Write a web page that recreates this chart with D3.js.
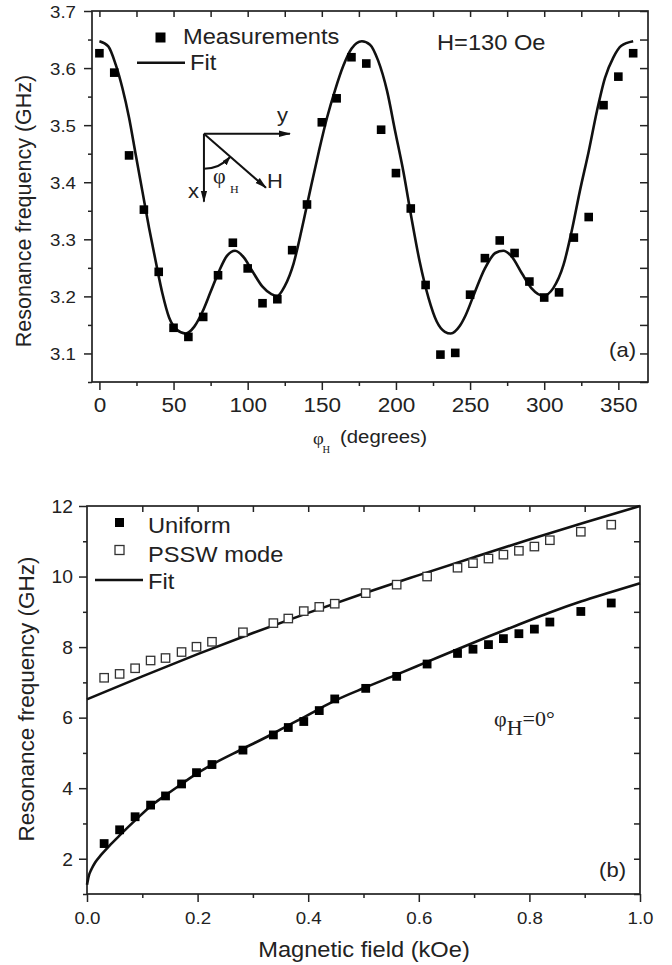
<!DOCTYPE html>
<html lang="en">
<head>
<meta charset="UTF-8">
<title>Resonance frequency vs angle and field</title>
<script src="https://d3js.org/d3.v7.min.js"></script>
<style>
  body { margin: 0; background: #fff; }
  svg text { fill: #222; font-family: "Liberation Sans", Arial, sans-serif; }
  svg text.serif { font-family: "Liberation Serif", "Times New Roman", serif; }
  .tick line { stroke: #222; stroke-width: 1.5; }
  .frame { fill: none; stroke: #222; stroke-width: 1.7; }
  .fit { fill: none; stroke: #111; stroke-width: 2.6; }
  .inset { fill: none; stroke: #111; stroke-width: 2; }
</style>
</head>
<body>
<svg id="chart" width="672" height="965"></svg>
<script>
// ---- panel (a): frequency vs in-plane angle, H = 130 Oe ----
const angleDeg = [0, 10, 20, 30, 40, 50, 60, 70, 80, 90, 100, 110, 120, 130, 140, 150, 160, 170, 180,
                  190, 200, 210, 220, 230, 240, 250, 260, 270, 280, 290, 300, 310, 320, 330, 340, 350, 360];
const measuredGHz = [3.626, 3.592, 3.447, 3.352, 3.243, 3.145, 3.129, 3.164, 3.237, 3.294, 3.249, 3.188, 3.195,
                     3.281, 3.361, 3.505, 3.547, 3.619, 3.608, 3.492, 3.416, 3.354, 3.220, 3.098, 3.101, 3.203,
                     3.267, 3.298, 3.276, 3.226, 3.198, 3.207, 3.303, 3.339, 3.535, 3.585, 3.626];
const fitDeg = [0, 6, 11, 15.5, 20, 24.5, 29, 33.5, 38, 42.5, 47, 52.5, 58, 64, 69.5, 75, 80.5, 86, 91.5, 97.5,
                103, 110, 116, 120, 125, 131, 136.5, 142, 148, 153.5, 159, 164.5, 170, 177, 182.5, 188, 194, 199.5,
                205, 210.5, 216, 222, 227.5, 233, 237, 243, 247, 253, 260, 267, 272.5, 278, 285, 291.5, 299.5,
                306, 313, 318.5, 324, 330, 335.5, 341, 346.5, 352, 360];
const fitAGHz = [3.647, 3.638, 3.606, 3.565, 3.513, 3.448, 3.384, 3.320, 3.261, 3.205, 3.163, 3.141, 3.135, 3.147,
                 3.173, 3.208, 3.243, 3.271, 3.280, 3.268, 3.245, 3.217, 3.204, 3.201, 3.218, 3.258, 3.318, 3.384,
                 3.454, 3.513, 3.562, 3.604, 3.634, 3.647, 3.641, 3.613, 3.560, 3.489, 3.419, 3.337, 3.261, 3.197,
                 3.156, 3.138, 3.135, 3.148, 3.167, 3.206, 3.249, 3.276, 3.280, 3.270, 3.240, 3.214, 3.201, 3.214,
                 3.255, 3.314, 3.384, 3.454, 3.524, 3.583, 3.618, 3.639, 3.647];
const aXMajor = [0, 50, 100, 150, 200, 250, 300, 350];
const aXMinor = [25, 75, 125, 175, 225, 275, 325];
const aXTop = [0, 25, 50, 75, 100, 125, 150, 175, 200, 225, 250, 275, 300, 325, 350];
const aYMajor = [3.1, 3.2, 3.3, 3.4, 3.5, 3.6, 3.7];
const aYMinor = [3.05, 3.15, 3.25, 3.35, 3.45, 3.55, 3.65];
const aYRight = [3.05, 3.1, 3.15, 3.2, 3.25, 3.3, 3.35, 3.4, 3.45, 3.5, 3.55, 3.6, 3.65, 3.7];

// ---- panel (b): frequency vs field, phi_H = 0 ----
const fieldKOe = [0.031, 0.059, 0.087, 0.115, 0.142, 0.171, 0.198, 0.226, 0.282, 0.337, 0.364, 0.392, 0.420,
                  0.448, 0.504, 0.560, 0.615, 0.670, 0.698, 0.726, 0.753, 0.781, 0.809, 0.837, 0.893, 0.948];
const uniformGHz = [2.43, 2.82, 3.19, 3.52, 3.78, 4.12, 4.44, 4.67, 5.08, 5.51, 5.72, 5.89, 6.20,
                    6.53, 6.83, 7.17, 7.52, 7.82, 7.94, 8.07, 8.24, 8.38, 8.51, 8.71, 9.01, 9.25];
const psswGHz = [7.13, 7.24, 7.40, 7.62, 7.69, 7.86, 8.01, 8.15, 8.42, 8.68, 8.81, 9.02, 9.14,
                 9.23, 9.53, 9.77, 10.00, 10.25, 10.38, 10.51, 10.62, 10.73, 10.85, 11.03, 11.27, 11.47];
const uniformFitKOe = [0, 0.003, 0.008, 0.015, 0.025, 0.04, 0.059, 0.088, 0.115, 0.142, 0.171, 0.199, 0.226,
                       0.281, 0.337, 0.365, 0.392, 0.412, 0.448, 0.504, 0.56, 0.615, 0.67, 0.726, 0.781, 0.837,
                       0.893, 0.948, 1.0];
const uniformFitGHz = [1.26, 1.50, 1.70, 1.90, 2.10, 2.36, 2.66, 3.10, 3.49, 3.80, 4.12, 4.42, 4.67,
                       5.11, 5.55, 5.79, 6.01, 6.18, 6.48, 6.86, 7.22, 7.58, 7.94, 8.30, 8.64, 8.98,
                       9.29, 9.56, 9.81];
const psswFitKOe = [0, 0.1, 0.2, 0.3, 0.4, 0.5, 0.6, 0.7, 0.8, 0.9, 1.0];
const psswFitGHz = [6.52, 7.17, 7.80, 8.40, 8.97, 9.52, 10.04, 10.55, 11.05, 11.53, 12.0];
const bXMajor = [0, 0.2, 0.4, 0.6, 0.8, 1.0];
const bXMinor = [0.1, 0.3, 0.5, 0.7, 0.9];
const bXTop = [0.1, 0.2, 0.3, 0.4, 0.5, 0.6, 0.7, 0.8, 0.9];
const bYMajor = [2, 4, 6, 8, 10, 12];
const bYMinor = [1, 3, 5, 7, 9, 11];
const bYRight = [1, 2, 3, 4, 5, 6, 7, 8, 9, 10, 11];

const SX = 1.1; // lettering in the source figure is stretched sideways a little

const svg = d3.select("#chart");
const defs = svg.append("defs");
defs.append("marker").attr("id", "arr").attr("viewBox", "0 -4 12 8")
    .attr("refX", 11).attr("refY", 0).attr("markerUnits", "userSpaceOnUse")
    .attr("markerWidth", 12).attr("markerHeight", 8).attr("orient", "auto")
    .append("path").attr("d", "M0,-3.2L12,0L0,3.2Z").attr("fill", "#111");
defs.append("marker").attr("id", "arrSmall").attr("viewBox", "0 -4 9 8")
    .attr("refX", 8).attr("refY", 0).attr("markerUnits", "userSpaceOnUse")
    .attr("markerWidth", 9).attr("markerHeight", 8).attr("orient", "auto")
    .append("path").attr("d", "M0,-3L9,0L0,3Z").attr("fill", "#111");

function label(g, x, y, s, size, anchor, cls) {
    return g.append("text")
        .attr("transform", `translate(${x},${y}) scale(${SX},1)`)
        .attr("text-anchor", anchor || "start")
        .attr("font-size", size)
        .attr("class", cls || null)
        .text(s);
}

function noDomain(sel) { sel.select(".domain").remove(); }

// frame + ticks in the Origin style: outward on left/bottom, inward on top/right
function axes(x, y, o) {
    const [x0, x1] = x.range(), [yb, yt] = y.range();
    const g = svg.append("g");

    const bot = g.append("g").attr("transform", `translate(0,${yb})`);
    bot.append("g").call(d3.axisBottom(x).tickValues(o.xMinor).tickSize(4).tickFormat("")).call(noDomain);
    bot.append("g").call(d3.axisBottom(x).tickValues(o.xMajor).tickSize(8).tickFormat(o.xFmt)).call(noDomain)
        .selectAll("text")
        .attr("y", null).attr("dy", null)
        .attr("transform", `translate(0,${o.xLabelOff}) scale(${SX},1)`)
        .attr("font-size", o.xSize).attr("font-family", null).attr("fill", "#222");

    const left = g.append("g").attr("transform", `translate(${x0},0)`);
    left.append("g").call(d3.axisLeft(y).tickValues(o.yMinor).tickSize(4).tickFormat("")).call(noDomain);
    left.append("g").call(d3.axisLeft(y).tickValues(o.yMajor).tickSize(8).tickFormat(o.yFmt)).call(noDomain)
        .selectAll("text")
        .attr("x", null).attr("dy", "0.36em")
        .attr("transform", `translate(${o.yLabelOff},0) scale(${SX},1)`)
        .attr("font-size", o.ySize).attr("font-family", null).attr("fill", "#222");

    g.append("g").attr("transform", `translate(0,${yt})`)
        .call(d3.axisTop(x).tickValues(o.xTop).tickSize(-o.topLen).tickFormat("")).call(noDomain);
    g.append("g").attr("transform", `translate(${x1},0)`)
        .call(d3.axisRight(y).tickValues(o.yRight).tickSize(-o.rightLen).tickFormat("")).call(noDomain);

    g.append("rect").attr("class", "frame")
        .attr("x", x0).attr("y", yt).attr("width", x1 - x0).attr("height", yb - yt);
    return g;
}

function squares(g, xs, ys, x, y, size, open) {
    g.selectAll(null).data(xs).enter().append("rect")
        .attr("x", d => x(d) - size / 2)
        .attr("y", (d, i) => y(ys[i]) - size / 2)
        .attr("width", size).attr("height", size)
        .attr("fill", open ? "#fff" : "#000")
        .attr("stroke", open ? "#333" : "none")
        .attr("stroke-width", open ? 1.3 : 0);
}

// ================= panel (a) =================
const xA = d3.scaleLinear().domain([-5, 370]).range([92, 648]);
const yA = d3.scaleLinear().domain([3.05, 3.7]).range([382, 11]);

axes(xA, yA, {
    xMajor: aXMajor, xMinor: aXMinor, xTop: aXTop, xFmt: d3.format("d"), xLabelOff: 29.5, xSize: 20.5,
    yMajor: aYMajor, yMinor: aYMinor, yRight: aYRight, yFmt: d3.format(".1f"), yLabelOff: -16, ySize: 17,
    topLen: 6, rightLen: 8
});

const gA = svg.append("g");
gA.append("path").attr("class", "fit")
    .attr("d", d3.line().x(d => xA(d)).y((d, i) => yA(fitAGHz[i])).curve(d3.curveMonotoneX)(fitDeg));
squares(gA, angleDeg, measuredGHz, xA, yA, 8.6, false);

// legend (a)
gA.append("rect").attr("x", 155.5).attr("y", 32.5).attr("width", 10).attr("height", 10).attr("fill", "#000");
label(gA, 183, 44, "Measurements", 21.5);
gA.append("line").attr("x1", 137).attr("x2", 185).attr("y1", 62.7).attr("y2", 62.7)
    .attr("stroke", "#111").attr("stroke-width", 2.6);
label(gA, 190, 70, "Fit", 21.5);

label(gA, 437, 50, "H=130 Oe", 21.5);
label(gA, 636, 357, "(a)", 20, "end");

// inset sketch of the axes
const ox = xA(70.5), oy = yA(3.485);
const inset = gA.append("g").attr("transform", `translate(${ox},${oy})`);
inset.append("line").attr("class", "inset").attr("x1", 0).attr("y1", 0).attr("x2", 86).attr("y2", 0)
    .attr("marker-end", "url(#arr)");
inset.append("line").attr("class", "inset").attr("x1", 0).attr("y1", 0).attr("x2", 0).attr("y2", 68)
    .attr("marker-end", "url(#arr)");
inset.append("line").attr("class", "inset").attr("x1", 0).attr("y1", 0).attr("x2", 62).attr("y2", 54)
    .attr("marker-end", "url(#arr)");
const arcP = d3.path();
const angH = Math.atan2(54, 62);
arcP.moveTo(0, 35);
arcP.arc(0, 0, 35, Math.PI / 2, angH + 0.02, true);
inset.append("path").attr("class", "inset").attr("stroke-width", 1.8).attr("d", arcP.toString())
    .attr("marker-end", "url(#arrSmall)");
label(inset, 73, -12, "y", 20);
label(inset, -16, 64, "x", 20);
label(inset, 63, 54, "H", 20);
label(inset, 9, 49, "φ", 20, "start", "serif");
label(inset, 26, 59, "H", 11, "start", "serif");

// axis titles (a)
svg.append("text").attr("transform", "translate(31,211) rotate(-90)")
    .attr("text-anchor", "middle").attr("font-size", 21.5).text("Resonance frequency (GHz)");
label(svg, 313, 444, "φ", 17, "start", "serif");
label(svg, 322.5, 452.5, "H", 9.5, "start", "serif");
label(svg, 340, 443, "(degrees)", 18.5);

// ================= panel (b) =================
const xB = d3.scaleLinear().domain([0, 1]).range([87, 640]);
const yB = d3.scaleLinear().domain([1, 12]).range([894, 506]);

axes(xB, yB, {
    xMajor: bXMajor, xMinor: bXMinor, xTop: bXTop, xFmt: d3.format(".1f"), xLabelOff: 30, xSize: 17,
    yMajor: bYMajor, yMinor: bYMinor, yRight: bYRight, yFmt: d3.format("d"), yLabelOff: -14, ySize: 17.5,
    topLen: 6, rightLen: 6
});

const gB = svg.append("g");
gB.append("path").attr("class", "fit")
    .attr("d", d3.line().x(d => xB(d)).y((d, i) => yB(psswFitGHz[i])).curve(d3.curveMonotoneX)(psswFitKOe));
gB.append("path").attr("class", "fit")
    .attr("d", d3.line().x(d => xB(d)).y((d, i) => yB(uniformFitGHz[i])).curve(d3.curveMonotoneX)(uniformFitKOe));
squares(gB, fieldKOe, psswGHz, xB, yB, 8.4, true);
squares(gB, fieldKOe, uniformGHz, xB, yB, 8.8, false);

// legend (b)
gB.append("rect").attr("x", 115).attr("y", 518).attr("width", 9).attr("height", 9).attr("fill", "#000");
label(gB, 148, 533, "Uniform", 21.5);
gB.append("rect").attr("x", 115).attr("y", 545.5).attr("width", 9).attr("height", 9)
    .attr("fill", "#fff").attr("stroke", "#333").attr("stroke-width", 1.3);
label(gB, 148, 561.5, "PSSW mode", 21.5);
gB.append("line").attr("x1", 95).attr("x2", 143).attr("y1", 580).attr("y2", 580)
    .attr("stroke", "#111").attr("stroke-width", 2.6);
label(gB, 148, 588.5, "Fit", 21.5);

label(gB, 626, 877, "(b)", 20, "end");

const phi0 = gB.append("text").attr("class", "serif").attr("font-size", 20)
    .attr("transform", `translate(494,726) scale(${SX},1)`);
phi0.append("tspan").text("φ");
phi0.append("tspan").attr("dy", 9).text("H");
phi0.append("tspan").attr("dy", -9).text("=0°");

// axis titles (b)
svg.append("text").attr("transform", "translate(34,699) rotate(-90)")
    .attr("text-anchor", "middle").attr("font-size", 22.5).text("Resonance frequency (GHz)");
label(svg, 364, 957, "Magnetic field (kOe)", 21.5, "middle");
</script>
</body>
</html>
